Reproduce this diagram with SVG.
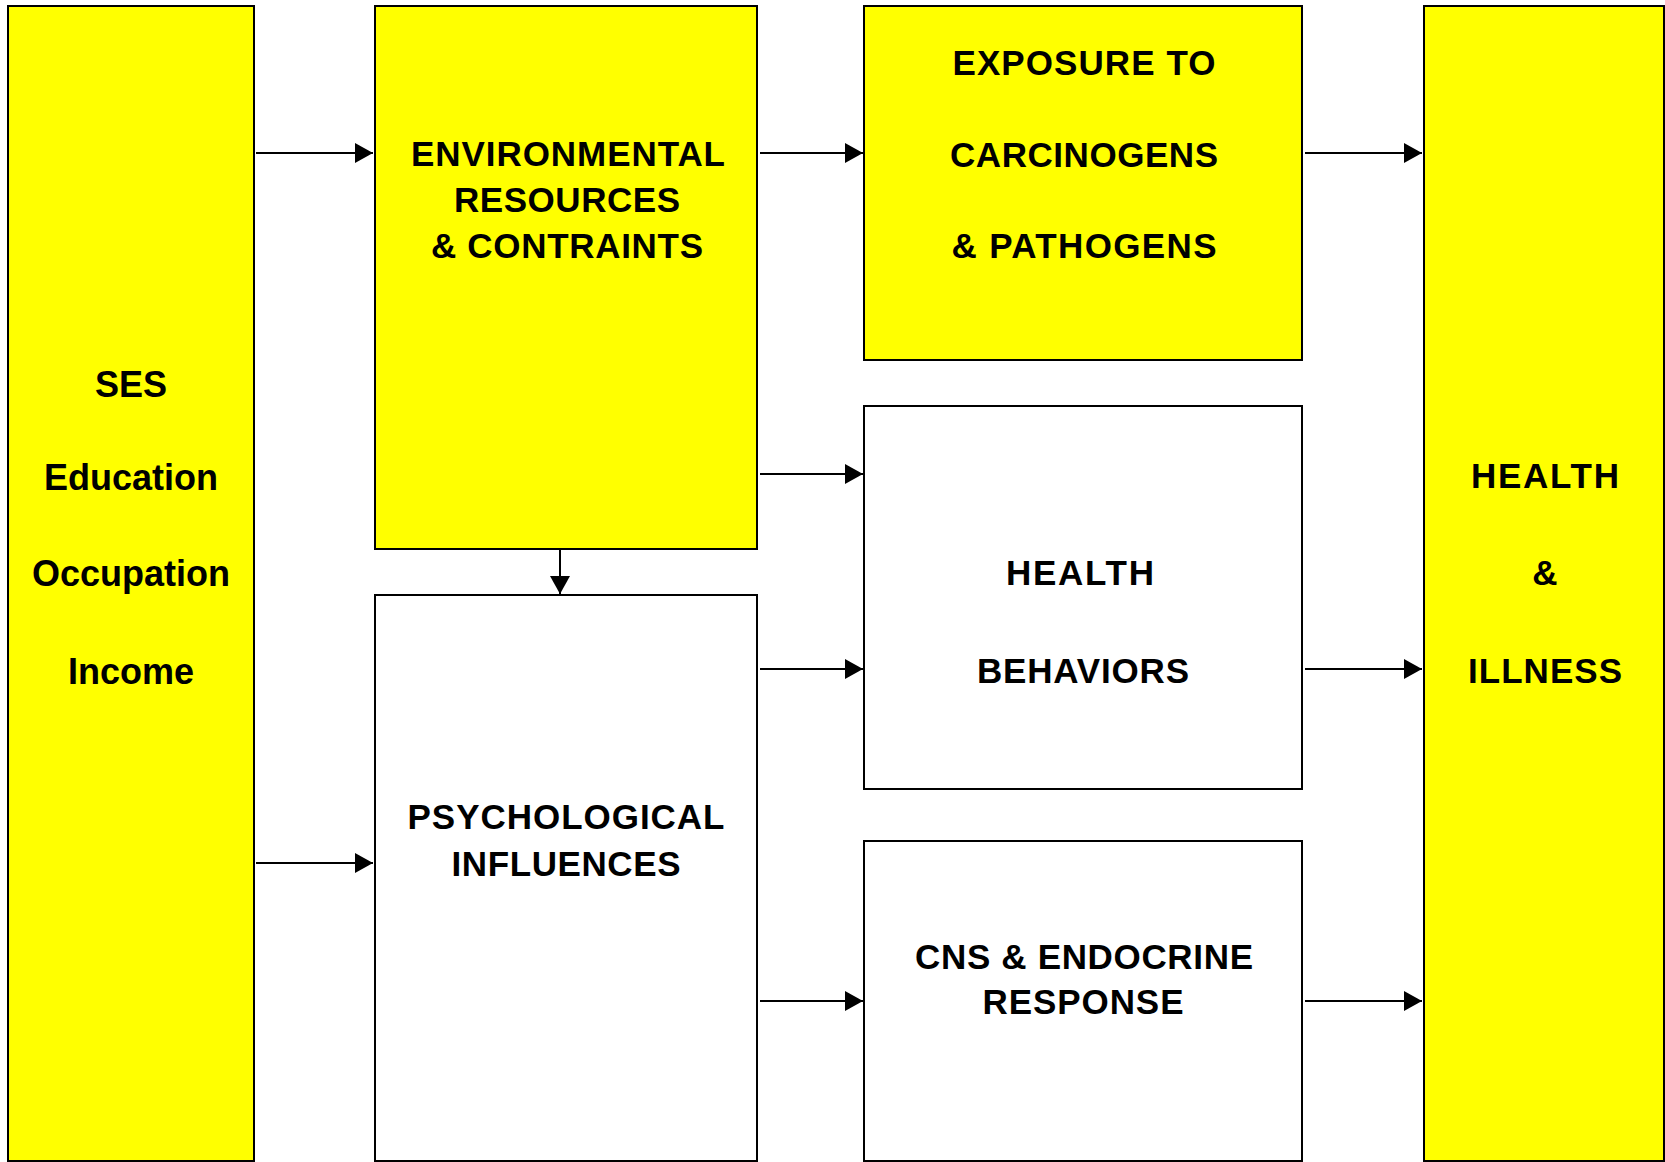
<svg xmlns="http://www.w3.org/2000/svg" width="1665" height="1162" viewBox="0 0 1665 1162">
<style>
.box{stroke:#000;stroke-width:2}
.y{fill:#FFFF00}
.w{fill:#FFFFFF}
text{font-family:"Liberation Sans",Arial,sans-serif;font-weight:bold;fill:#000;text-anchor:middle}
.lg{font-size:36px}
.md{font-size:35px}
.conn line{stroke:#000;stroke-width:2;marker-end:url(#ah)}
</style>
<defs>
<marker id="ah" markerUnits="userSpaceOnUse" markerWidth="18" markerHeight="20" refX="18" refY="10" orient="auto">
<path d="M0,0 L18,10 L0,20 z" fill="#000"/>
</marker>
</defs>
<rect width="1665" height="1162" fill="#FFFFFF"/>
<g id="ses">
<rect class="box y" x="8" y="6" width="246" height="1155"/>
<text class="lg" x="131" y="397">SES</text>
<text class="lg" x="131" y="490">Education</text>
<text class="lg" x="131" y="586">Occupation</text>
<text class="lg" x="131" y="684">Income</text>
</g>
<g id="environmental">
<rect class="box y" x="375" y="6" width="382" height="543"/>
<text class="md" x="568" y="166" textLength="314" lengthAdjust="spacing">ENVIRONMENTAL</text>
<text class="md" x="567" y="212" textLength="226" lengthAdjust="spacing">RESOURCES</text>
<text class="md" x="567" y="258" textLength="272" lengthAdjust="spacing">&amp; CONTRAINTS</text>
</g>
<g id="exposure">
<rect class="box y" x="864" y="6" width="438" height="354"/>
<text class="md" x="1084" y="75" textLength="263" lengthAdjust="spacing">EXPOSURE TO</text>
<text class="md" x="1084" y="167" textLength="268" lengthAdjust="spacing">CARCINOGENS</text>
<text class="md" x="1084" y="258" textLength="265" lengthAdjust="spacing">&amp; PATHOGENS</text>
</g>
<g id="health-behaviors">
<rect class="box w" x="864" y="406" width="438" height="383"/>
<text class="md" x="1080" y="585" textLength="148" lengthAdjust="spacing">HEALTH</text>
<text class="md" x="1083" y="683" textLength="212" lengthAdjust="spacing">BEHAVIORS</text>
</g>
<g id="psychological">
<rect class="box w" x="375" y="595" width="382" height="566"/>
<text class="md" x="566" y="829" textLength="317" lengthAdjust="spacing">PSYCHOLOGICAL</text>
<text class="md" x="566" y="876" textLength="229" lengthAdjust="spacing">INFLUENCES</text>
</g>
<g id="cns">
<rect class="box w" x="864" y="841" width="438" height="320"/>
<text class="md" x="1084" y="969" textLength="338" lengthAdjust="spacing">CNS &amp; ENDOCRINE</text>
<text class="md" x="1083" y="1014" textLength="201" lengthAdjust="spacing">RESPONSE</text>
</g>
<g id="health-illness">
<rect class="box y" x="1424" y="6" width="240" height="1155"/>
<text class="md" x="1545" y="488" textLength="148" lengthAdjust="spacing">HEALTH</text>
<text class="md" x="1545" y="585">&amp;</text>
<text class="md" x="1545" y="683" textLength="154" lengthAdjust="spacing">ILLNESS</text>
</g>
<g id="connectors" class="conn">
<line x1="256" y1="153" x2="373" y2="153"/>
<line x1="760" y1="153" x2="863" y2="153"/>
<line x1="1305" y1="153" x2="1422" y2="153"/>
<line x1="760" y1="474" x2="863" y2="474"/>
<line x1="560" y1="550" x2="560" y2="594"/>
<line x1="256" y1="863" x2="373" y2="863"/>
<line x1="760" y1="669" x2="863" y2="669"/>
<line x1="760" y1="1001" x2="863" y2="1001"/>
<line x1="1305" y1="669" x2="1422" y2="669"/>
<line x1="1305" y1="1001" x2="1422" y2="1001"/>
</g>
</svg>
